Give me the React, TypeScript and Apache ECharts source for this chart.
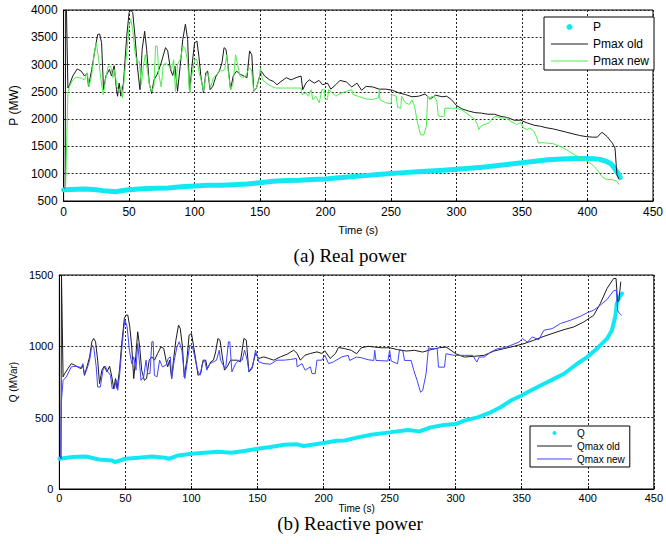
import { useEffect, useRef } from "react";
import * as echarts from "echarts";

// ---------- data: [time (s), value] ----------
const pData: number[][] = [
  [0, 705], [5, 710], [10, 715], [15, 720], [20, 715], [25, 705], [30, 690], [35, 680], [40, 670], [43, 685],
  [48, 700], [55, 715], [60, 725], [70, 735], [80, 740], [90, 760], [100, 775], [110, 790], [120, 790], [130, 800],
  [140, 810], [150, 835], [160, 860], [170, 875], [180, 880], [190, 895], [200, 905], [210, 925], [220, 945], [230, 965],
  [240, 985], [250, 1005], [260, 1020], [270, 1035], [280, 1050], [290, 1065], [300, 1080], [310, 1100], [320, 1120], [330, 1145],
  [340, 1175], [350, 1200], [360, 1230], [370, 1255], [380, 1270], [390, 1280], [400, 1280], [405, 1275], [410, 1260], [415, 1220],
  [418, 1180], [420, 1120], [422, 1050], [424, 980], [425, 930],
];

const pmaxOld: number[][] = [
  [1.2, 720], [1.6, 4000], [2.2, 4000], [3.3, 2570], [4.5, 2630], [7, 2790], [10.4, 2920], [13.4, 2880], [16, 2790], [18, 2840],
  [19, 2600], [21.5, 2910], [24, 3280], [26, 3550], [27.5, 3560], [29, 3400], [30.5, 2540], [32.3, 2790], [35, 2910], [36.6, 2790],
  [38.6, 2980], [40.4, 2540], [41.2, 2420], [42.4, 2660], [43.7, 2420], [45.7, 2660], [48.2, 3520], [50, 3950], [51.3, 4000], [52.8, 3950],
  [54.5, 3520], [56.3, 2970], [58.3, 2540], [60, 3280], [61.9, 3610], [63.4, 3280], [65.4, 2660], [67.2, 2470], [69, 2720], [71.5, 2820],
  [74.5, 3030], [77.8, 3310], [79.5, 3250], [81.6, 2910], [83.3, 2800], [85, 2970], [87, 2510], [89, 2970], [91, 3460], [93, 3740],
  [94.7, 3460], [96.2, 2480], [98, 2970], [100, 3400], [101.8, 3430], [103.3, 3150], [104.8, 2790], [106.8, 2480], [108.6, 2850], [110, 2880],
  [111.9, 2540], [113.9, 2600], [116.4, 2790], [118.9, 2880], [120.9, 3030], [122.5, 3310], [124, 3280], [125.8, 2910], [127.5, 2540], [129.5, 2790],
  [132, 2880], [135, 2820], [137.6, 2790], [140, 2760], [142, 3250], [143.7, 3180], [145.2, 2510], [147.2, 2570], [149.7, 2790], [151, 2880],
  [153.5, 2790], [157.3, 2720], [160.4, 2690], [162.9, 2630], [166, 2690], [170, 2760], [173.7, 2720], [177.5, 2760], [181.3, 2790], [182.6, 2540],
  [185, 2660], [187.6, 2720], [191.4, 2660], [195, 2710], [197.7, 2630], [201.5, 2660], [204, 2550], [207.8, 2630], [211, 2710], [216, 2680],
  [220, 2590], [224, 2660], [227.5, 2530], [231, 2600], [236, 2590], [241, 2550], [246, 2550], [251, 2530], [256, 2480], [261, 2450],
  [266, 2410], [271, 2420], [276, 2460], [280, 2370], [284, 2440], [289, 2410], [292.5, 2420], [296, 2360], [300, 2250], [304, 2190],
  [309, 2150], [314, 2120], [319, 2110], [324, 2090], [329, 2090], [334, 2050], [339, 2030], [344, 1980], [349, 1980], [354, 1930],
  [359, 1890], [364, 1870], [369, 1840], [374, 1820], [379, 1790], [384, 1760], [389, 1730], [394, 1700], [399, 1680], [404, 1670],
  [407.5, 1670], [411, 1760], [415, 1680], [419, 1560], [421, 1470], [422, 1130], [422.5, 980], [424, 900],
];

const pmaxNew: number[][] = [
  [1.5, 700], [3.3, 2480], [4.5, 2600], [7, 2720], [9.6, 2770], [13.4, 2750], [16, 2720], [18, 2850], [19.4, 2590], [21.5, 2820],
  [23.5, 3220], [25, 3400], [26.5, 3150], [28.5, 2720], [30.3, 2450], [32, 2720], [34, 2970], [36, 2970], [37.6, 2760], [39, 2910],
  [40.6, 2600], [42.4, 2510], [43.7, 2600], [45, 2390], [46.7, 2850], [48.2, 3220], [50, 3700], [51.3, 3830], [52.8, 3640], [54.5, 3220],
  [56.3, 3030], [57.8, 3060], [59.3, 2630], [60.9, 2970], [62.4, 3180], [63.9, 2910], [65.7, 2600], [67.2, 2510], [69, 2600], [70.2, 3340],
  [71.5, 3340], [72.7, 2820], [74.5, 2590], [76, 2970], [77.8, 3030], [80.3, 2970], [82.3, 2910], [84, 3090], [85.4, 2510], [87, 3000],
  [89, 3090], [91.2, 3340], [93, 3280], [94.7, 3060], [96.2, 2480], [98, 2820], [100, 3090], [101.8, 3090], [103.5, 2850], [105, 2720],
  [106.8, 2510], [108.8, 2820], [110.6, 2820], [112, 2570], [114.4, 2760], [117, 2820], [119.4, 2910], [121, 2880], [123, 2910], [124.5, 3180],
  [125.8, 2850], [127.5, 2540], [129.5, 2660], [131.3, 3180], [132.6, 3030], [134.6, 2790], [137.1, 2760], [139.6, 2820], [141.7, 2940], [143.4, 2910],
  [145.2, 2510], [147.2, 2570], [149.2, 2720], [150.2, 2940], [151.8, 2720], [154.8, 2660], [158.6, 2600], [162.4, 2570], [167.4, 2570], [172.5, 2570],
  [177.5, 2570], [181.3, 2570], [182, 2450], [185, 2480], [187, 2420], [189, 2540], [190.2, 2360], [192.7, 2420], [195.2, 2300], [197.2, 2540],
  [199, 2540], [199.7, 2360], [201.5, 2360], [202.3, 2540], [205.3, 2480], [207.8, 2420], [211, 2470], [216, 2510], [220, 2540], [221, 2450],
  [226, 2410], [231, 2370], [236, 2360], [240.5, 2390], [241, 2540], [241.5, 2360], [246, 2300], [250, 2280], [250.5, 2450], [254, 2420],
  [255, 2220], [257.5, 2200], [258, 2420], [261, 2300], [264, 2270], [266, 2350], [268, 2230], [270, 1960], [272.5, 1710], [275, 1710],
  [277, 1870], [278, 2420], [279.5, 2360], [281, 2420], [283, 2410], [285, 2330], [286, 2060], [287.5, 2050], [290.5, 2050], [291, 2200],
  [296, 2200], [299.5, 2200], [304, 2170], [307.5, 2110], [311, 2050], [314, 1990], [316, 1900], [317, 1810], [318.5, 1870], [321, 1900],
  [325, 1930], [327.5, 2020], [330, 2050], [334, 2020], [339, 2020], [341, 1960], [344, 1930], [346, 1900], [349, 1940], [351, 1840],
  [354, 1810], [356, 1840], [359, 1780], [361, 1680], [362.5, 1560], [365, 1570], [374, 1550], [379, 1500], [384, 1440], [389, 1360],
  [394, 1300], [399, 1240], [404, 1160], [407.5, 1070], [411, 950], [414, 900], [419, 890], [422.5, 860], [424, 800],
];

const qData: number[][] = [
  [0, 212], [10, 224], [20, 228], [30, 207], [40, 200], [42, 188], [50, 212], [60, 219], [70, 228], [80, 219],
  [83, 212], [90, 235], [100, 247], [110, 254], [120, 261], [130, 254], [140, 266], [150, 282], [160, 294], [170, 310],
  [180, 313], [185, 301], [200, 322], [210, 338], [216, 340], [226, 362], [236, 380], [250, 397], [264, 413], [272.6, 404],
  [281, 432], [291, 448], [300, 455], [306.5, 479], [316.6, 502], [325, 531], [334, 573], [341.7, 620], [350, 655], [356.8, 690],
  [364.3, 725], [374.4, 772], [382, 808], [392, 878], [399.5, 925], [407, 984], [414.6, 1054], [418.3, 1113], [420.8, 1207], [422, 1300],
  [424, 1347], [426, 1370],
];

const qmaxOld: number[][] = [
  [1.2, 212], [1.6, 1500], [2.8, 786], [4, 809], [6.5, 844], [9, 879], [11.6, 868], [14.6, 851], [16.6, 844], [17.8, 868],
  [19, 797], [21, 861], [22.9, 926], [24.6, 1032], [26, 1055], [27.4, 1032], [29, 903], [30.4, 739], [32.2, 833], [34, 861],
  [36, 821], [38, 861], [39.7, 786], [41.2, 704], [42.5, 774], [43.7, 704], [45.5, 833], [47.2, 1020], [49.2, 1196], [50.5, 1219],
  [51.8, 1219], [53.3, 1137], [54.8, 996], [56.3, 774], [57.8, 926], [59.3, 1102], [60.8, 996], [62.3, 833], [64.3, 762], [66, 774],
  [68, 903], [70, 926], [72, 903], [74.4, 950], [76.9, 996], [79, 985], [80.7, 903], [82, 856], [83.4, 903], [85, 774],
  [86.4, 903], [88.2, 1043], [90.2, 1149], [91.5, 1125], [93.2, 996], [94.5, 786], [96.5, 903], [98.2, 1078], [100, 1090], [101.5, 1008],
  [103.3, 903], [105, 797], [107, 809], [108.8, 903], [110.8, 903], [112, 844], [114.6, 891], [116.6, 903], [118.3, 961], [120, 1055],
  [121.6, 1043], [123.4, 926], [125, 833], [127, 856], [129.6, 903], [132, 903], [134.7, 903], [137, 891], [139.7, 1055], [141.5, 1043],
  [143.5, 821], [146, 856], [148.5, 950], [151, 915], [154.8, 926], [158.5, 915], [162.3, 903], [167.3, 926], [172.4, 945], [177.4, 973],
  [180, 950], [182.4, 903], [186, 938], [190, 950], [195, 961], [198.7, 950], [201, 968], [205, 915], [209, 950], [211.3, 992],
  [216, 984], [221, 972], [225, 948], [228.6, 990], [233.7, 1000], [238.7, 995], [243.7, 990], [250, 990], [256, 977], [262.6, 967],
  [268.8, 972], [275, 960], [281.4, 977], [287.7, 990], [292.7, 995], [296.5, 972], [300, 948], [306.5, 925], [314, 930], [321.6, 937],
  [329, 967], [336.7, 984], [344, 1000], [351.8, 1019], [359, 1042], [366.8, 1070], [374.4, 1094], [382, 1117], [389.4, 1136], [397, 1171],
  [404.5, 1218], [409.5, 1300], [414.6, 1406], [419.6, 1476], [421.4, 1476], [422.6, 1312], [423.6, 1324], [425, 1453],
];

const qmaxNew: number[][] = [
  [1, 212], [1.4, 600], [2.8, 762], [5.3, 786], [9, 856], [12.8, 861], [16.6, 851], [17.8, 879], [19, 797], [21, 844],
  [22.9, 903], [24.6, 1008], [26, 996], [27.9, 856], [29, 715], [31, 715], [33, 833], [34.7, 861], [36.7, 821], [38.7, 797],
  [40, 704], [41.7, 704], [43, 762], [44.2, 692], [45.7, 809], [47.2, 973], [48.7, 1125], [49.7, 1184], [51.3, 1137], [53, 973],
  [54.8, 879], [56.3, 926], [58, 833], [59.3, 1020], [60.5, 903], [61.8, 762], [63.8, 786], [65.6, 903], [66.8, 809], [68.6, 809],
  [70, 1032], [71, 1032], [71.9, 797], [73.9, 786], [75.9, 903], [78, 856], [80.7, 868], [82.4, 915], [84, 926], [85, 774],
  [87, 903], [89, 996], [90.7, 1032], [92.7, 973], [95, 774], [97, 903], [98.7, 1008], [100.8, 996], [102.5, 926], [104.5, 833],
  [106.5, 797], [108.3, 879], [110, 903], [111.6, 833], [114, 879], [116.6, 891], [119, 903], [121, 973], [122, 903], [124, 868],
  [125.9, 844], [128, 1032], [129, 1032], [130.6, 821], [133.4, 879], [136, 903], [138.4, 903], [140.2, 973], [142.2, 903], [143.5, 821],
  [146, 844], [148.5, 973], [151, 891], [154.8, 879], [159.8, 875], [164.8, 903], [170, 903], [175, 908], [179.4, 915], [180, 856],
  [183.7, 879], [186, 833], [190, 856], [191.2, 809], [193.7, 809], [195, 903], [198.7, 903], [201, 938], [203.8, 879], [207.5, 891],
  [213.6, 925], [218.6, 937], [219.8, 901], [224.9, 925], [228.6, 920], [233.7, 906], [238, 901], [238.7, 972], [239.7, 901], [248.7, 897],
  [250, 972], [251.2, 897], [256, 878], [257.5, 977], [260, 967], [261.3, 901], [266.3, 901], [268.3, 831], [270.8, 761], [273.4, 678],
  [275, 690], [277.6, 808], [279.4, 990], [281.4, 984], [286, 984], [287, 854], [291.5, 854], [292.7, 948], [299, 937], [306.5, 937],
  [312.8, 937], [316, 890], [317.8, 925], [321.6, 925], [326.6, 960], [331.7, 984], [336.7, 990], [341.7, 1007], [348, 1030], [350.5, 1054],
  [354.3, 1030], [358, 1066], [363, 1047], [366.8, 1113], [373, 1124], [379.4, 1160], [387, 1183], [394.5, 1211], [399.5, 1235], [404.5, 1253],
  [409.5, 1288], [414.6, 1329], [419.6, 1390], [421.6, 1394], [422.6, 1253], [424, 1230], [425.6, 1218],
];

const topLegend = ["P", "Pmax old", "Pmax new"];
const bottomLegend = ["Q", "Qmax old", "Qmax new"];
const captions = ["(a) Real power", "(b) Reactive power"];

const SANS = "Liberation Sans, Arial, sans-serif";
const SERIF = "Liberation Serif, Times New Roman, serif";
const CYAN = "#12e8f4";
const BLACK = "#1a1a1a";
const GREEN = "#4cef4c";
const BLUE = "#4343ff";
const LINE_ICON = "path://M0,0H80V2H0Z";

export default function App() {
  const ref = useRef<HTMLDivElement>(null);
  useEffect(() => {
    if (!ref.current) return;
    const chart = echarts.init(ref.current, undefined, { renderer: "svg" });
    const axisBase = (fs: number, margin: number) => ({
      axisLine: { show: true, onZero: false, lineStyle: { color: "#000", width: 1 } },
      axisTick: { show: true, inside: true, length: 3, lineStyle: { color: "#000" } },
      axisLabel: { color: "#000", fontFamily: SANS, fontSize: fs, margin, formatter: (v: number) => String(v) },
      splitLine: { show: true, lineStyle: { color: "#222", type: [2, 2], width: 1, opacity: 1 } },
    });
    chart.setOption({
      animation: false,
      backgroundColor: "#fff",
      title: [
        { text: captions[0], left: 345, top: 241, textAlign: "center", textStyle: { fontFamily: SERIF, fontSize: 19, fontWeight: "normal", color: "#000" } },
        { text: captions[1], left: 345, top: 509, textAlign: "center", textStyle: { fontFamily: SERIF, fontSize: 19, fontWeight: "normal", color: "#000" } },
      ],
      grid: [
        { left: 59, top: 10, width: 599, height: 191, show: true, borderColor: "#000", borderWidth: 1, z: 0 },
        { left: 58, top: 275, width: 597, height: 214, show: true, borderColor: "#000", borderWidth: 1, z: 0 },
      ],
      legend: [
        {
          data: [
            { name: topLegend[0], icon: "circle" },
            { name: topLegend[1], icon: LINE_ICON },
            { name: topLegend[2], icon: LINE_ICON },
          ],
          orient: "vertical", left: 544, top: 17, itemWidth: 37, itemHeight: 6, itemGap: 5, symbolKeepAspect: true,
          padding: [4, 5, 3, 7], borderColor: "#000", borderWidth: 1, backgroundColor: "#fff",
          textStyle: { fontFamily: SANS, fontSize: 12, color: "#000" },
        },
        {
          data: [
            { name: bottomLegend[0], icon: "circle" },
            { name: bottomLegend[1], icon: LINE_ICON },
            { name: bottomLegend[2], icon: LINE_ICON },
          ],
          orient: "vertical", left: 530, top: 426, itemWidth: 35, itemHeight: 4, itemGap: 3, symbolKeepAspect: true,
          padding: [2, 5, 3, 7], borderColor: "#000", borderWidth: 1, backgroundColor: "#fff",
          textStyle: { fontFamily: SANS, fontSize: 10, color: "#000" },
        },
      ],
      xAxis: [
        {
          type: "value", gridIndex: 0, min: 0, max: 450, interval: 50, ...axisBase(12, 5),
          name: "Time (s)", nameLocation: "middle", nameGap: 23,
          nameTextStyle: { fontFamily: SANS, fontSize: 11, color: "#000" },
        },
        {
          type: "value", gridIndex: 1, min: 0, max: 450, interval: 50, ...axisBase(11, 3),
          name: "Time (s)", nameLocation: "middle", nameGap: 13,
          nameTextStyle: { fontFamily: SANS, fontSize: 10, color: "#000" },
        },
      ],
      yAxis: [
        {
          type: "value", gridIndex: 0, min: 500, max: 4000, interval: 500, ...axisBase(12, 6),
          name: "P (MW)", nameLocation: "middle", nameGap: 38,
          nameTextStyle: { fontFamily: SANS, fontSize: 12, color: "#000" },
        },
        {
          type: "value", gridIndex: 1, min: 0, max: 1500, interval: 500, ...axisBase(11, 6),
          name: "Q (MVar)", nameLocation: "middle", nameGap: 40,
          nameTextStyle: { fontFamily: SANS, fontSize: 10, color: "#000" },
        },
      ],
      series: [
        { name: topLegend[0], type: "line", xAxisIndex: 0, yAxisIndex: 0, data: pData, symbol: "none", color: CYAN,
          lineStyle: { color: CYAN, width: 5, cap: "round", join: "round" } },
        { name: topLegend[1], type: "line", xAxisIndex: 0, yAxisIndex: 0, data: pmaxOld, symbol: "none", color: BLACK,
          lineStyle: { color: BLACK, width: 1 } },
        { name: topLegend[2], type: "line", xAxisIndex: 0, yAxisIndex: 0, data: pmaxNew, symbol: "none", color: GREEN,
          lineStyle: { color: GREEN, width: 1 } },
        { name: bottomLegend[0], type: "line", xAxisIndex: 1, yAxisIndex: 1, data: qData, symbol: "none", color: CYAN,
          lineStyle: { color: CYAN, width: 4, cap: "round", join: "round" } },
        { name: bottomLegend[1], type: "line", xAxisIndex: 1, yAxisIndex: 1, data: qmaxOld, symbol: "none", color: BLACK,
          lineStyle: { color: BLACK, width: 1 } },
        { name: bottomLegend[2], type: "line", xAxisIndex: 1, yAxisIndex: 1, data: qmaxNew, symbol: "none", color: BLUE,
          lineStyle: { color: BLUE, width: 1 } },
      ],
    });
    return () => chart.dispose();
  }, []);
  return (
    <div
      ref={ref}
      style={{ position: "fixed", left: 0, top: 0, width: 666, height: 544, background: "#fff" }}
    />
  );
}
